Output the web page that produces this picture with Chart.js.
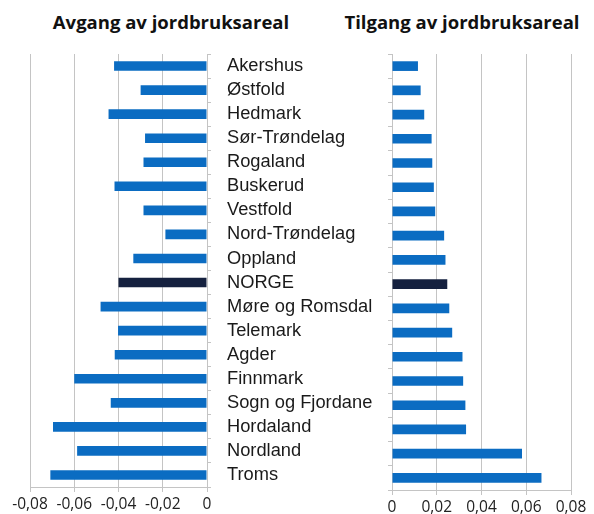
<!DOCTYPE html>
<html>
<head>
<meta charset="utf-8">
<script src="https://cdn.jsdelivr.net/npm/chart.js@4"></script>
<style>
    body { margin: 0; background: #fff; width: 594px; height: 514px; position: relative; overflow: hidden; }
    canvas { position: absolute; top: 0; }
    .title { position: absolute; top: 9px; font: bold 18.5px "Open Sans", sans-serif; color: #111; white-space: nowrap; transform: translateX(-50%); }
</style>
</head>
<body>
<div class="title" style="left:171px">Avgang av jordbruksareal</div>
<div class="title" style="left:462px">Tilgang av jordbruksareal</div>
<canvas id="avgangChart" width="380" height="514" style="left:0"></canvas>
<canvas id="tilgangChart" width="214" height="514" style="left:380px"></canvas>
<script>
const regions = ['Akershus', 'Østfold', 'Hedmark', 'Sør-Trøndelag', 'Rogaland', 'Buskerud', 'Vestfold',
    'Nord-Trøndelag', 'Oppland', 'NORGE', 'Møre og Romsdal', 'Telemark', 'Agder', 'Finnmark',
    'Sogn og Fjordane', 'Hordaland', 'Nordland', 'Troms'];
const avgang = [-0.042, -0.030, -0.0445, -0.028, -0.0287, -0.0418, -0.0287, -0.0188, -0.0333,
    -0.040, -0.0481, -0.0402, -0.0417, -0.060, -0.0435, -0.0696, -0.0587, -0.0708];
const tilgang = [0.0116, 0.0128, 0.0144, 0.0177, 0.018, 0.0187, 0.0193, 0.0233, 0.0239,
    0.0247, 0.0256, 0.0269, 0.0315, 0.0318, 0.0328, 0.0331, 0.0581, 0.0668];
const avgangTicks = [-0.08, -0.06, -0.04, -0.02, 0];
const tilgangTicks = [0, 0.02, 0.04, 0.06, 0.08];

const blue = '#0b6cc2';
const navy = '#15213f';
const gridColor = '#c4c4c4';
const barColors = regions.map(r => r === 'NORGE' ? navy : blue);

function fmt(v) {
    return v === 0 ? '0' : v.toFixed(2).replace('.', ',');
}

function valueAxis(ticks) {
    return {
        min: ticks[0],
        max: ticks[ticks.length - 1],
        afterBuildTicks: scale => { scale.ticks = ticks.map(v => ({ value: v })); },
        afterFit: scale => { scale.height = 24; },
        grid: { color: gridColor, tickLength: 5 },
        border: { color: gridColor },
        ticks: {
            padding: 3,
            color: '#222',
            font: { family: 'Open Sans', size: 15.5 },
            callback: v => fmt(v)
        }
    };
}

// venstre: avgang, med fylkesnavn på høyre side
new Chart(document.getElementById('avgangChart'), {
    type: 'bar',
    data: {
        labels: regions,
        datasets: [{ data: avgang, backgroundColor: barColors, barPercentage: 0.4, categoryPercentage: 1 }]
    },
    options: {
        indexAxis: 'y',
        responsive: false,
        animation: false,
        layout: { padding: { left: 30, top: 54, right: 0, bottom: 0 } },
        plugins: { legend: { display: false }, tooltip: { enabled: false } },
        scales: {
            x: valueAxis(avgangTicks),
            y: {
                position: 'right',
                afterFit: scale => { scale.width = 173; },
                grid: { drawOnChartArea: false, tickLength: 4, color: gridColor },
                border: { color: gridColor },
                ticks: {
                    padding: 16,
                    color: '#1a1a1a',
                    font: { family: 'Liberation Sans', size: 18.3 }
                }
            }
        }
    }
});

// høyre: tilgang
new Chart(document.getElementById('tilgangChart'), {
    type: 'bar',
    data: {
        labels: regions,
        datasets: [{ data: tilgang, backgroundColor: barColors, barPercentage: 0.4, categoryPercentage: 1 }]
    },
    options: {
        indexAxis: 'y',
        responsive: false,
        animation: false,
        layout: { padding: { left: 0, top: 54, right: 23, bottom: 0 } },
        plugins: { legend: { display: false }, tooltip: { enabled: false } },
        scales: {
            x: valueAxis(tilgangTicks),
            y: {
                afterFit: scale => { scale.width = 12; },
                grid: { drawOnChartArea: false, tickLength: 4, color: gridColor },
                border: { color: gridColor },
                ticks: { display: false }
            }
        }
    }
});
</script>
</body>
</html>
